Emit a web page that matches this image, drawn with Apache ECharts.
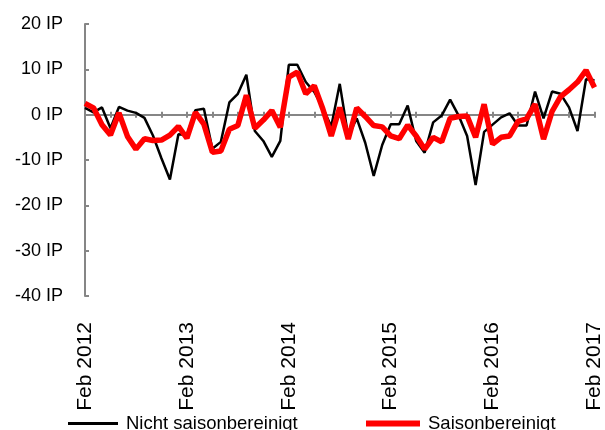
<!DOCTYPE html>
<html>
<head>
<meta charset="utf-8">
<script src="https://cdn.jsdelivr.net/npm/echarts@6/dist/echarts.min.js"></script>
<style>
  html, body { margin: 0; padding: 0; background: #fff; }
  #chart { width: 605px; height: 430px; }
</style>
</head>
<body>
<div id="chart"></div>
<script>
// Monate Feb 2012 .. Feb 2017
const monthNames = ['Jan', 'Feb', 'Mrz', 'Apr', 'Mai', 'Jun', 'Jul', 'Aug', 'Sep', 'Okt', 'Nov', 'Dez']
const startYear = 2012
const startMonth = 1
const monthCount = 61

const seriesNames = ['Nicht saisonbereinigt', 'Saisonbereinigt']

const nichtSaisonbereinigt = [
    1.5, 0.5, 1.6, -3.0, 1.7, 0.9, 0.4, -0.7, -4.6, -9.6, -14.3, -4.3,
    -4.5, 1.0, 1.3, -7.5, -6.0, 2.7, 4.6, 8.8, -3.6, -5.8,
    -9.3, -5.8, 11.0, 11.0, 7.2, 5.0, 1.5, -2.6, 6.8, -4.8,
    -0.8, -6.2, -13.5, -6.7, -2.1, -2.1, 2.0, -5.8, -8.4, -1.7,
    -0.2, 3.3, -0.2, -4.7, -15.5, -3.8, -2.2, -0.6, 0.3, -2.4,
    -2.4, 5.1, -0.8, 5.1, 4.6, 1.6, -3.6, 7.8, 7.6
]

const saisonbereinigt = [
    2.5, 1.5, -2.2, -4.5, 0.4, -4.8, -7.6, -5.3, -5.7, -5.6, -4.5, -2.6,
    -5.2, 0.5, -2.1, -8.3, -8.0, -3.2, -2.4, 4.3, -3.0, -1.2,
    0.9, -2.8, 8.3, 9.4, 4.6, 6.4, 1.3, -4.7, 1.6, -5.4,
    1.5, -0.4, -2.4, -2.7, -4.7, -5.3, -2.3, -4.7, -7.6, -5.0,
    -6.0, -0.8, -0.4, -0.3, -5.0, 2.3, -6.5, -5.0, -4.7, -1.5,
    -0.9, 2.3, -5.4, 0.7, 4.0, 5.5, 7.2, 9.8, 6.0
]

const categories = []
for (let i = 0; i < monthCount; i++) {
    const m = (startMonth + i) % 12
    const y = startYear + Math.floor((startMonth + i) / 12)
    categories.push(monthNames[m] + ' ' + y)
}

const FONT = 'Liberation Sans, Arial, sans-serif'
const AXIS_GRAY = '#868686'
const legendText = {
    fontFamily: FONT,
    fontSize: 18.5,
    color: '#000',
    padding: [0, 0, 0, 3]
}

const chart = echarts.init(document.getElementById('chart'))

const option = {
    animation: false,
    grid: {
        left: 85,
        right: 8,
        top: 24,
        bottom: 134
    },
    // zwei Legenden, damit die Linienstärken unterschiedlich sein können
    legend: [
        {
            data: [seriesNames[0]],
            left: 68,
            top: 414,
            padding: 0,
            icon: 'rect',
            itemWidth: 50,
            itemHeight: 3,
            textStyle: legendText
        },
        {
            data: [seriesNames[1]],
            left: 366,
            top: 414,
            padding: 0,
            icon: 'rect',
            itemWidth: 54,
            itemHeight: 6,
            textStyle: legendText
        }
    ],
    xAxis: [
        // Beschriftung unten
        {
            type: 'category',
            data: categories,
            boundaryGap: false,
            position: 'bottom',
            axisLine: {show: false, onZero: false},
            axisTick: {show: false},
            axisLabel: {
                interval: 11,
                rotate: 90,
                margin: 26,
                fontFamily: FONT,
                fontSize: 21,
                color: '#000'
            }
        },
        // Nulllinie mit Ticks nach unten
        {
            type: 'category',
            data: categories,
            boundaryGap: false,
            position: 'bottom',
            axisLine: {show: true, onZero: true, onZeroAxisIndex: 0, lineStyle: {color: AXIS_GRAY, width: 2}},
            axisTick: {show: true, interval: 2, length: 3, lineStyle: {color: AXIS_GRAY, width: 2}},
            axisLabel: {show: false}
        },
        // Ticks nach oben
        {
            type: 'category',
            data: categories,
            boundaryGap: false,
            position: 'top',
            axisLine: {show: false, onZero: true, onZeroAxisIndex: 0},
            axisTick: {show: true, interval: 2, length: 3, lineStyle: {color: AXIS_GRAY, width: 2}},
            axisLabel: {show: false}
        }
    ],
    yAxis: {
        type: 'value',
        min: -40,
        max: 20,
        interval: 10,
        axisLine: {show: true, lineStyle: {color: AXIS_GRAY, width: 2}},
        axisTick: {show: true, inside: true, length: 4, lineStyle: {color: AXIS_GRAY, width: 2}},
        splitLine: {show: false},
        axisLabel: {
            formatter: '{value} IP',
            margin: 22,
            fontFamily: FONT,
            fontSize: 18,
            color: '#000'
        }
    },
    series: [
        {
            name: seriesNames[0],
            type: 'line',
            xAxisIndex: 0,
            data: nichtSaisonbereinigt,
            symbol: 'none',
            lineStyle: {color: '#000', width: 2.5},
            itemStyle: {color: '#000'}
        },
        {
            name: seriesNames[1],
            type: 'line',
            xAxisIndex: 0,
            data: saisonbereinigt,
            symbol: 'none',
            lineStyle: {color: '#ff0000', width: 5.5},
            itemStyle: {color: '#ff0000'}
        }
    ]
}

chart.setOption(option)
</script>
</body>
</html>
